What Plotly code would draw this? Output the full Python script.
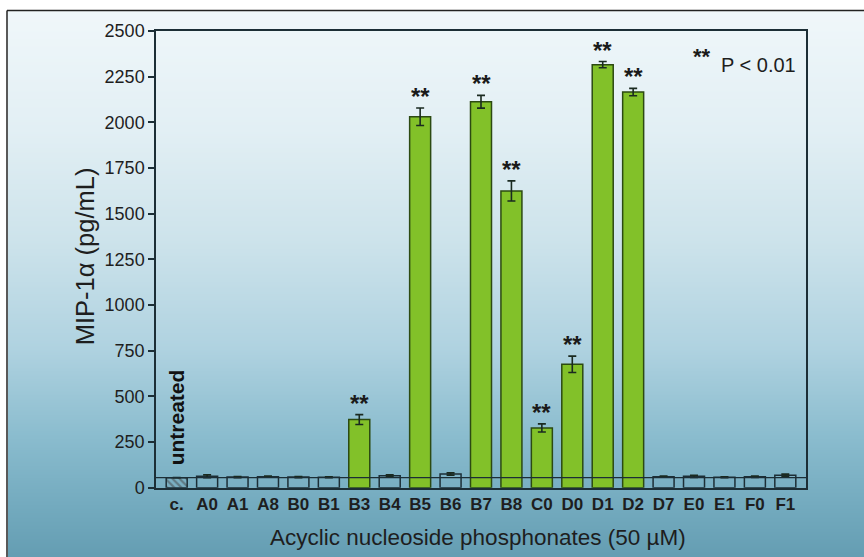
import base64, struct, zlib
import plotly.graph_objects as go

# ---------------- data ----------------
categories = ["c.", "A0", "A1", "A8", "B0", "B1", "B3", "B4", "B5", "B6", "B7",
              "B8", "C0", "D0", "D1", "D2", "D7", "E0", "E1", "F0", "F1"]
values = [55, 62, 58, 60, 58, 57, 373, 65, 2030, 75, 2112,
          1624, 327, 675, 2315, 2165, 60, 62, 57, 60, 68]
errors = [0, 8, 3, 3, 3, 3, 27, 5, 48, 6, 35,
          55, 22, 45, 17, 20, 3, 6, 3, 4, 6]
significant = [False, False, False, False, False, False, True, False, True, False, True,
               True, True, True, True, True, False, False, False, False, False]
y_ticks = [0, 250, 500, 750, 1000, 1250, 1500, 1750, 2000, 2250, 2500]
control_label = "untreated"
sig_label = "**"
legend_text = "P < 0.01"
x_title = "Acyclic nucleoside phosphonates (50 µM)"
y_title = "MIP-1α (pg/mL)"

W, H = 864, 568
SC = 0.963    # vertical scale of the photographed page
OFF = 10.2    # picture rows above the figure


def fy(ref_y):
    """figure pixel row for a pixel row of the target picture"""
    return (ref_y - OFF) / SC


def py(ref_y):
    return 1 - fy(ref_y) / H


# ---------------- gradient background (styling) ----------------
stops = [(0.00, (240, 247, 250)), (0.22, (226, 239, 244)), (0.42, (205, 227, 235)),
         (0.62, (175, 210, 224)), (0.78, (138, 188, 206)), (0.90, (116, 171, 191)),
         (1.00, (100, 157, 178))]


def grad_color(t):
    t = min(max(t, 0.0), 1.0)
    for (t0, c0), (t1, c1) in zip(stops[:-1], stops[1:]):
        if t0 <= t <= t1:
            f = (t - t0) / (t1 - t0)
            return tuple(int(round(a + (b - a) * f)) for a, b in zip(c0, c1))
    return stops[-1][1]


def make_png(w, h):
    raw = b""
    for r in range(h):
        ref_row = OFF + r * SC          # picture row this figure row lands on
        c = grad_color((ref_row - 9) / (557 - 9))
        raw += b"\x00" + bytes(c) * w
    def chunk(tag, data):
        return struct.pack(">I", len(data)) + tag + data + struct.pack(">I", zlib.crc32(tag + data) & 0xffffffff)
    png = b"\x89PNG\r\n\x1a\n"
    png += chunk(b"IHDR", struct.pack(">IIBBBBB", w, h, 8, 2, 0, 0, 0))
    png += chunk(b"IDAT", zlib.compress(raw, 9))
    png += chunk(b"IEND", b"")
    return "data:image/png;base64," + base64.b64encode(png).decode()


bg_src = make_png(4, H)
bottom_rgb = "rgb(%d,%d,%d)" % grad_color(1.0)

# ---------------- styling per bar ----------------
GREEN = "#82c129"
GREEN_LINE = "#2c4a12"
DARK = "#1c2e36"
fill_colors = [GREEN if s else "rgba(0,0,0,0)" for s in significant]
line_colors = [GREEN_LINE if s else DARK for s in significant]
patterns = ["\\" if i == 0 else "" for i in range(len(categories))]

fig = go.Figure()
fig.add_trace(go.Bar(
    x=categories, y=values, width=0.69,
    marker=dict(color=fill_colors,
                line=dict(color=line_colors, width=1.5),
                pattern=dict(shape=patterns, fgcolor="#2e3a40", size=5, solidity=0.45)),
    error_y=dict(type="data", array=errors, visible=True, color="#1a2a20",
                 thickness=1.6, width=4),
    showlegend=False, hoverinfo="x+y",
))

x0d, x1d = 156 / W, 806 / W
y0d, y1d = py(487), py(31)

fig.update_layout(
    width=W, height=H,
    margin=dict(l=0, r=0, t=0, b=0),
    paper_bgcolor="white",
    plot_bgcolor="rgba(0,0,0,0)",
    font=dict(family="Arial, Liberation Sans, sans-serif", color="#1e1e1e"),
    xaxis=dict(domain=[x0d, x1d], range=[-0.68, len(categories) - 1 + 0.68],
               type="category", showline=True, linecolor=DARK, linewidth=1.5, mirror=True,
               ticks="", showgrid=False, zeroline=False,
               tickfont=dict(size=17, family="Arial, Liberation Sans", weight="bold",
                             color="#1e1e1e"),
               tickangle=0),
    yaxis=dict(domain=[y0d, y1d], range=[0, 2500], tickvals=y_ticks,
               showline=True, linecolor=DARK, linewidth=1.5, mirror=True,
               ticks="outside", ticklen=6, tickwidth=1.5, tickcolor=DARK,
               showgrid=False, zeroline=False,
               tickfont=dict(size=18, color="#1e1e1e")),
    images=[dict(source=bg_src, xref="paper", yref="paper", x=8 / W, y=1,
                 sizex=1 - 8 / W, sizey=1, sizing="stretch",
                 xanchor="left", yanchor="top", layer="below")],
)

# control reference line at the untreated level
fig.add_shape(type="line", xref="paper", yref="y", x0=x0d, x1=x1d,
              y0=values[0], y1=values[0], line=dict(color=DARK, width=1.2))

# frame lines of the picture
fig.add_shape(type="line", xref="paper", yref="paper", x0=7 / W, x1=7 / W, y0=0, y1=0.999,
              line=dict(color="#222", width=1.5))
fig.add_shape(type="line", xref="paper", yref="paper", x0=7 / W, x1=1, y0=0.999, y1=0.999,
              line=dict(color="#222", width=1.5))

# significance stars
for c, v, e, s in zip(categories, values, errors, significant):
    if s:
        fig.add_annotation(x=c, y=v + e, text=sig_label, showarrow=False,
                           yanchor="bottom", yshift=-4,
                           font=dict(size=24, color="#1a1a1a", weight="bold"))

# untreated label
fig.add_annotation(x=categories[0], y=values[0], text=control_label, showarrow=False,
                   textangle=-90, yanchor="bottom", yshift=10,
                   font=dict(size=21, color="#111", weight="bold"))

# legend-like note
fig.add_annotation(xref="paper", yref="paper", x=702 / W, y=py(57), text=sig_label,
                   showarrow=False, xanchor="center", yanchor="middle",
                   font=dict(size=22, color="#1a1a1a", weight="bold"))
fig.add_annotation(xref="paper", yref="paper", x=719 / W, y=py(65), text=legend_text,
                   showarrow=False, xanchor="left", yanchor="middle",
                   font=dict(size=20, color="#1e1e1e"))

# axis titles
fig.add_annotation(xref="paper", yref="paper", x=(x0d + x1d) / 2 - 0.004, y=py(537), text=x_title,
                   showarrow=False, xanchor="center", yanchor="middle",
                   font=dict(size=22.5, color="#1e1e1e"))
fig.add_annotation(xref="paper", yref="paper", x=85 / W, y=py(256), text=y_title,
                   showarrow=False, textangle=-90, xanchor="center", yanchor="middle",
                   font=dict(size=25.5, color="#1e1e1e"))

page_js = ("var bgc='linear-gradient(to bottom, #ffffff 0%, #ffffff 50%, " + bottom_rgb + " 50%, "
           + bottom_rgb + " 100%)';"
           "document.documentElement.style.margin='0';document.documentElement.style.padding='0';"
           "document.documentElement.style.background=bgc;"
           "document.documentElement.style.minHeight='100%';"
           "document.body.style.margin='0';document.body.style.padding='0';"
           "document.body.style.background=bgc;")
fig.write_html("out.html", config={"displayModeBar": False}, post_script=page_js)
